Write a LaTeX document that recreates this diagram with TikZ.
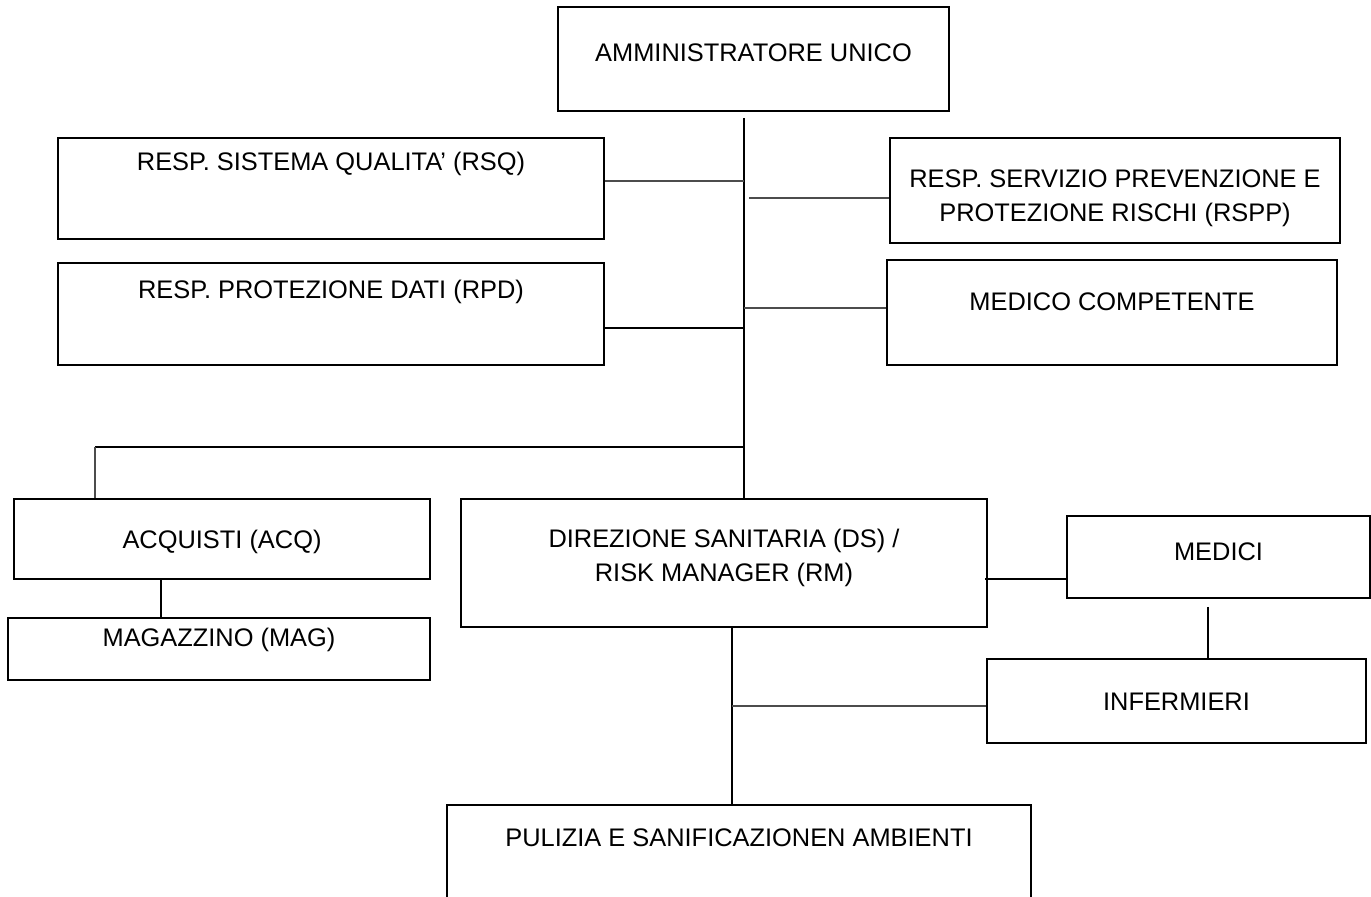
\documentclass[tikz,border=0pt]{standalone}
\usepackage{fontspec}
\setmainfont{Liberation Sans}
\usetikzlibrary{calc}
\begin{document}
\begin{tikzpicture}[x=0.5pt,y=-0.5pt,
  box/.style={draw=black, line width=1.2pt, inner sep=0pt},
  lbl/.style={align=center, inner sep=0pt, font=\fontsize{12.7}{16.8}\selectfont},
  spine/.style={draw=black, line width=1pt},
  conn/.style={draw=black!70, line width=0.6pt},
  connb/.style={draw=black, line width=0.6pt}]
\clip (0,0) rectangle (1371,897);
\fill[white] (0,0) rectangle (1371,897);
% boxes
\node[box, minimum width=195.5pt, minimum height=52pt] (au) at (753.5,59) {};
\node[box, minimum width=273pt, minimum height=50.5pt] (rsq) at (331,188.5) {};
\node[box, minimum width=273pt, minimum height=51pt] (rpd) at (331,314) {};
\node[box, minimum width=225pt, minimum height=52.5pt] (rspp) at (1115,190.5) {};
\node[box, minimum width=225pt, minimum height=52.5pt] (mc) at (1112,312.5) {};
\node[box, minimum width=208pt, minimum height=40pt] (acq) at (222,539) {};
\node[box, minimum width=211pt, minimum height=31pt] (mag) at (219,649) {};
\node[box, minimum width=263pt, minimum height=64pt] (ds) at (724,563) {};
\node[box, minimum width=151.5pt, minimum height=41pt] (medici) at (1218.5,557) {};
\node[box, minimum width=189.5pt, minimum height=42pt] (inf) at (1176.5,701) {};
\node[box, minimum width=292pt, minimum height=57.5pt] (pul) at (739,862.5) {};
% labels
\node[lbl] (tau) at (753.5,53) {AMMINISTRATORE UNICO};
\node[lbl] (trsq) at (331,164) {RESP. SISTEMA QUALITA' (RSQ)};
\node[lbl] (trpd) at (331,292) {RESP. PROTEZIONE DATI (RPD)};
\node[lbl] (trspp) at (1115,198.5) {RESP. SERVIZIO PREVENZIONE E\\PROTEZIONE RISCHI (RSPP)};
\node[lbl] (tmc) at (1112,302) {MEDICO COMPETENTE};
\node[lbl] (tacq) at (222,542) {ACQUISTI (ACQ)};
\node[lbl] (tmag) at (219,640) {MAGAZZINO (MAG)};
\node[lbl] (tds) at (724,558) {DIREZIONE SANITARIA (DS) /\\RISK MANAGER (RM)};
\node[lbl] (tmed) at (1218.5,552) {MEDICI};
\node[lbl] (tinf) at (1176.5,702) {INFERMIERI};
\node[lbl] (tpul) at (739,838) {PULIZIA E SANIFICAZIONEN AMBIENTI};
% junction coordinates
\coordinate (top) at (744,118);
\coordinate (jRSQ) at (744,181);
\coordinate (jRSPP) at (749,198);
\coordinate (jMC) at (744,308);
\coordinate (jRPD) at (744,328);
\coordinate (jACQ) at (744,447);
\coordinate (aTop) at (95,447);
\coordinate (xMag) at (161,0);
\coordinate (jDSM) at (985,579);
\coordinate (jMI) at (1208,607);
\coordinate (xDS) at (732,0);
\coordinate (jINF) at (732,706);
% connectors
\draw[spine] (top) -- (ds.north -| top);
\draw[conn] (rsq.east |- jRSQ) -- (jRSQ);
\draw[conn] (jRSPP) -- (rspp.west |- jRSPP);
\draw[conn] (jMC) -- (mc.west |- jMC);
\draw[connb] (rpd.east |- jRPD) -- (jRPD);
\draw[spine, line width=0.8pt] (jACQ) -- (aTop);
\draw[conn] (aTop) -- (acq.north -| aTop);
\draw[connb] (acq.south -| xMag) -- (mag.north -| xMag);
\draw[connb] (jDSM) -- (medici.west |- jDSM);
\draw[connb] (jMI) -- (inf.north -| jMI);
\draw[spine] (ds.south -| xDS) -- (pul.north -| xDS);
\draw[conn] (jINF) -- (inf.west |- jINF);
\end{tikzpicture}
\end{document}
